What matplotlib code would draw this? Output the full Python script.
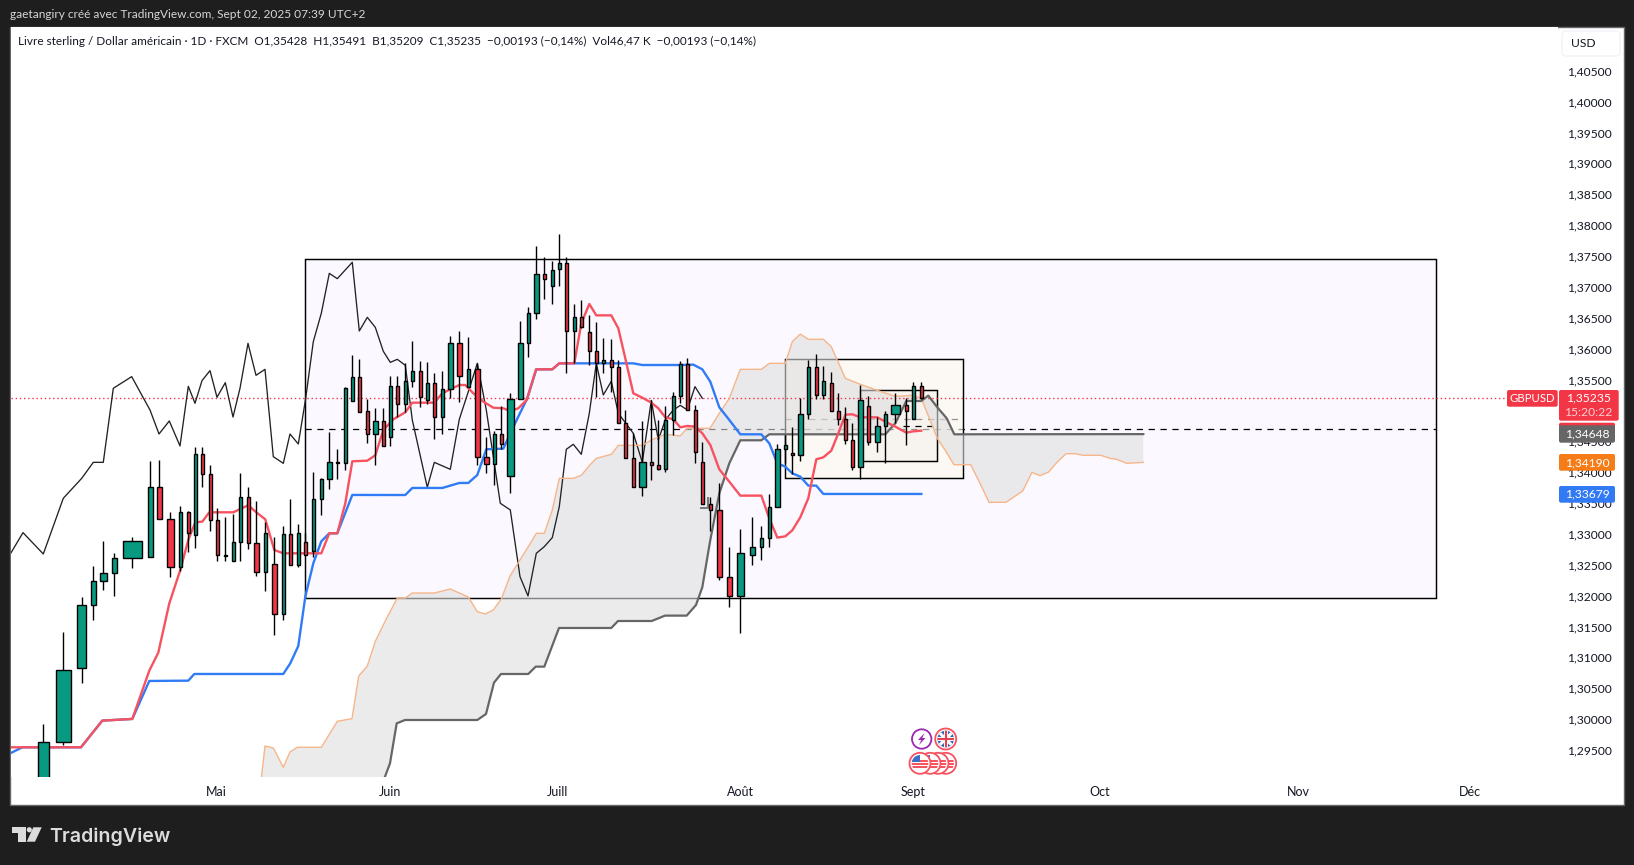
import numpy as np
import matplotlib
matplotlib.use('Agg')
import matplotlib.pyplot as plt
from matplotlib.patches import Rectangle, FancyBboxPatch, Circle, Polygon
from matplotlib.transforms import Affine2D, ScaledTranslation

# GBPUSD daily, volume candles: bar_x is the position on the time scale, bar_w the volume width
bar_x = [43.3,63.3,81.7,93.3,103.3,114.3,132.3,150.3,159.3,170.3,180.3,188.3,195.3,202.3,210.3,217.3,225.3,233.3,240.3,248.3,256.3,265.3,274.3,283.3,290.3,298.3,305.3,313.3,321.3,329.3,337.3,
         345.3,352.3,359.3,367.3,375.3,383.3,390.3,397.3,405.3,412.3,420.3,427.3,434.3,442.3,450.3,459.3,468.3,477.3,486.3,494.3,501.3,510.3,520.3,528.3,536.3,544.3,552.3,559.3,566.3,574.3,581.3,589.3,596.3,603.3,611.3,618.3,625.3,633.3,642.3,651.3,658.3,665.3,673.3,680.3,687.3,
         695.3,702.3,710.3,719.3,729.3,740.3,752.3,761.3,769.3,777.3,785.3,792.3,800.3,808.3,816.3,823.3,831.3,838.3,845.3,852.3,860.3,868.3,877.3,885.3,895.3,906.3,913.3,921.3]
bar_w = [12,16,10,6,8,6,20,6,6,8,4,4,4,4,4,4,4,4,4,4,6,4,6,4,4,4,4,4,4,6,4,
         4,4,4,4,6,4,4,4,4,4,4,4,4,4,6,6,4,6,6,4,4,8,6,4,6,4,4,4,4,4,4,4,4,4,4,4,4,4,8,4,4,4,4,4,4,
         4,4,4,6,6,8,6,4,4,6,4,4,6,4,4,4,4,4,4,4,6,4,6,4,10,4,4,4]
opens = [1.27645,1.29658,1.30856,1.31876,1.32265,1.32394,1.32637,1.32653,1.33787,1.33268,1.32491,1.33382,1.33009,1.34321,1.33997,1.33252,1.32680,1.32589,1.32896,1.33625,1.32880,1.32410,1.32540,1.31730,1.33026,1.32524,1.32896,1.32750,1.33592,1.33916,1.34186,
         1.34175,1.35179,1.35568,1.35017,1.34645,1.34855,1.34596,1.35422,1.35130,1.35503,1.35665,1.35195,1.35470,1.34920,1.35373,1.36118,1.35406,1.35697,1.34272,1.34159,1.34645,1.33965,1.35211,1.36118,1.36604,1.37235,1.37041,1.37316,1.37413,1.36312,1.36539,1.36296,1.35989,1.35794,1.35843,1.35730,1.34823,1.34256,1.33787,1.34191,1.34143,1.34078,1.34871,1.35260,1.35778,
         1.35033,1.34191,1.33511,1.33414,1.32329,1.32022,1.32686,1.32815,1.32961,1.33463,1.34402,1.34337,1.34305,1.34969,1.35730,1.35276,1.35470,1.35017,1.34888,1.34548,1.34110,1.35098,1.34515,1.34774,1.34969,1.35114,1.34888,1.35428]
highs = [1.29955,1.31439,1.32006,1.32508,1.32912,1.32718,1.32977,1.34207,1.34224,1.33382,1.33479,1.33398,1.34434,1.34434,1.34143,1.33447,1.33301,1.33349,1.34013,1.33787,1.33560,1.33220,1.32977,1.33155,1.33592,1.33187,1.33042,1.34029,1.33932,1.34677,1.34402,
         1.35416,1.35924,1.35859,1.35222,1.35066,1.35066,1.35584,1.35584,1.35794,1.36150,1.35827,1.35810,1.35632,1.35665,1.36231,1.36312,1.36215,1.35794,1.34596,1.34693,1.35098,1.35309,1.36474,1.36701,1.37689,1.37511,1.37446,1.37883,1.37511,1.36750,1.36814,1.36571,1.36458,1.36199,1.36183,1.35843,1.35033,1.34661,1.34855,1.35195,1.34871,1.35098,1.35325,1.35827,1.35875,
         1.35114,1.34515,1.33625,1.33851,1.32815,1.33107,1.33301,1.33155,1.33673,1.34483,1.34629,1.34758,1.35228,1.35843,1.35940,1.35746,1.35649,1.35309,1.35082,1.34823,1.35438,1.35260,1.34920,1.35017,1.35309,1.35228,1.35487,1.35491]
lows = [1.27537,1.29615,1.30624,1.31639,1.32124,1.32032,1.32486,1.32653,1.33268,1.32340,1.32437,1.32740,1.32804,1.33797,1.33085,1.32599,1.32599,1.32589,1.32599,1.32794,1.32357,1.32113,1.31401,1.31644,1.32524,1.32491,1.32686,1.32653,1.33344,1.33765,1.33916,
        1.34067,1.35179,1.35001,1.34499,1.34148,1.34450,1.34450,1.34920,1.35001,1.35406,1.35082,1.35130,1.34564,1.34645,1.35228,1.35163,1.35406,1.34148,1.34013,1.33824,1.34402,1.33700,1.35211,1.35902,1.36517,1.36831,1.36750,1.37041,1.35632,1.35794,1.36361,1.35762,1.35255,1.35632,1.35330,1.34823,1.34256,1.33787,1.33652,1.33900,1.34062,1.34029,1.34629,1.35147,1.35033,
        1.34175,1.33511,1.33085,1.32286,1.31854,1.31423,1.32535,1.32605,1.32826,1.33463,1.34175,1.33997,1.34208,1.34888,1.35211,1.35211,1.35017,1.34790,1.34483,1.34062,1.33916,1.34467,1.34353,1.34175,1.34823,1.34467,1.34888,1.35209]
closes = [1.29658,1.30824,1.31876,1.32265,1.32394,1.32637,1.32912,1.33787,1.33268,1.32491,1.33382,1.33042,1.34321,1.33997,1.33252,1.32686,1.32686,1.32896,1.33625,1.32880,1.32410,1.33042,1.31730,1.33026,1.32524,1.33042,1.32686,1.33592,1.33916,1.34191,1.34191,
          1.35390,1.35568,1.35001,1.34645,1.34855,1.34450,1.35422,1.35130,1.35503,1.35665,1.35244,1.35470,1.34920,1.35373,1.36118,1.35584,1.35697,1.34272,1.34159,1.34645,1.34483,1.35211,1.36118,1.36604,1.37235,1.37154,1.37300,1.37413,1.36312,1.36539,1.36377,1.35989,1.35794,1.35843,1.35730,1.34823,1.34256,1.33787,1.34191,1.34143,1.34078,1.34871,1.35260,1.35778,1.35033,
          1.34353,1.33511,1.33414,1.32329,1.32022,1.32718,1.32815,1.32961,1.33463,1.34402,1.34467,1.34305,1.34969,1.35730,1.35276,1.35503,1.35017,1.34888,1.34548,1.34110,1.35195,1.34515,1.34774,1.34969,1.35114,1.35017,1.35422,1.35235]

tenkan_x = [10.3,81.0,102.3,132.3,149.3,158.3,169.3,180.3,188.3,195.3,202.3,209.3,233.3,240.3,248.3,256.3,265.3,274.3,283.3,321.3,329.3,337.3,345.3,352.3,367.3,375.3,383.3,393.3,405.3,412.3,434.3,442.3,450.3,459.3,465.3,473.3,483.3,493.3,503.3,510.3,518.3,526.7,536.0,552.3,559.3,574.3,581.3,589.3,596.3,611.3,618.3,625.3,633.3,642.3,651.3,658.3,665.3,673.3,680.3,687.3,695.3,702.3,710.3,719.3,729.3,740.3,761.3,769.3,777.3,785.3,792.3,800.3,808.3,816.3,823.3,831.3,838.3,845.3,852.3,860.3,877.3,885.3,895.3,906.3,913.3,921.3]
tenkan = [1.29577,1.29577,1.30009,1.30036,1.30818,1.31110,1.31908,1.32448,1.32934,1.33220,1.33231,1.33382,1.33382,1.33436,1.33495,1.33382,1.33268,1.32772,1.32718,1.32718,1.33042,1.33042,1.33528,1.34208,1.34218,1.34305,1.34715,1.34888,1.35001,1.35157,1.35157,1.35309,1.35373,1.35443,1.35443,1.35309,1.35174,1.35076,1.35066,1.35022,1.35066,1.35201,1.35697,1.35697,1.35794,1.35794,1.36442,1.36755,1.36571,1.36571,1.36361,1.35875,1.35309,1.35238,1.35157,1.35066,1.34920,1.34888,1.34758,1.34780,1.34769,1.34661,1.34472,1.34078,1.33878,1.33652,1.33652,1.33285,1.32972,1.32993,1.33090,1.33301,1.33609,1.34240,1.34272,1.34380,1.34661,1.34963,1.34969,1.34920,1.34920,1.34850,1.34769,1.34672,1.34693,1.34704]
kijun_x = [10.3,22.3,81.0,102.3,132.3,149.3,188.3,194.3,283.3,290.3,298.3,305.3,313.3,321.3,329.3,337.3,352.3,405.3,412.3,442.3,459.3,468.3,477.3,486.3,503.3,510.3,518.3,527.3,536.3,552.3,559.3,633.3,642.3,680.3,693.3,702.3,710.3,719.3,729.3,740.3,761.3,769.3,777.3,785.3,792.3,800.3,808.3,816.3,823.3,921.3]
kijun = [1.29480,1.29577,1.29577,1.30009,1.30036,1.30651,1.30656,1.30764,1.30764,1.30937,1.31218,1.32016,1.32556,1.32912,1.33042,1.33042,1.33663,1.33662,1.33776,1.33776,1.33857,1.33857,1.33986,1.34402,1.34413,1.34661,1.34931,1.35228,1.35697,1.35697,1.35794,1.35794,1.35767,1.35767,1.35773,1.35697,1.35497,1.35082,1.34877,1.34645,1.34645,1.34499,1.34175,1.34121,1.34013,1.33959,1.33814,1.33814,1.33679,1.33679]
chikou_x = [10.3,23.0,43.3,63.3,81.7,93.3,103.3,113.3,131.7,141.7,150.0,159.0,169.3,180.0,188.3,195.0,202.0,210.0,217.0,225.3,233.0,240.0,248.0,256.0,265.0,273.3,283.3,290.0,298.3,305.7,313.3,321.3,329.3,337.3,352.3,359.3,367.3,375.3,383.3,390.3,397.3,405.3,412.3,427.3,434.3,450.3,459.3,468.3,477.3,486.3,500.3,510.3,520.0,528.0,536.3,544.3,552.3,559.3,566.3,573.3,581.3,589.3,596.3,603.3,611.3,618.3,633.3,642.3,651.3,658.3,665.3,673.3,680.3,687.3,695.0,702.3]
chikou = [1.32707,1.33053,1.32707,1.33609,1.33932,1.34191,1.34191,1.35390,1.35579,1.35282,1.35039,1.34650,1.34861,1.34456,1.35422,1.35147,1.35514,1.35676,1.35244,1.35481,1.34925,1.35390,1.36118,1.35600,1.35697,1.34283,1.34175,1.34650,1.34488,1.35228,1.36145,1.36604,1.37251,1.37165,1.37430,1.36318,1.36539,1.36377,1.35989,1.35810,1.35859,1.35762,1.34877,1.33787,1.34191,1.34078,1.34888,1.35335,1.35794,1.35039,1.33528,1.33420,1.32340,1.32027,1.32718,1.32826,1.32972,1.33474,1.34402,1.34483,1.34321,1.34985,1.35794,1.35282,1.35503,1.34985,1.34661,1.34191,1.35195,1.34553,1.34877,1.35039,1.35114,1.35039,1.35417,1.35228]
span_a_x = [255.0,380.0,385.0,390.0,396.7,405.0,477.3,486.0,494.0,501.0,528.3,535.7,544.3,559.0,611.3,618.0,651.7,665.0,686.7,696.0,702.3,710.3,719.3,729.3,740.3,761.3,769.3,885.3,895.3,906.3,921.3,928.3,937.3,946.7,954.3,1143.3]
span_a = [1.28184,1.28832,1.29102,1.29318,1.29965,1.30019,1.30019,1.30116,1.30624,1.30764,1.30764,1.30883,1.30883,1.31509,1.31509,1.31622,1.31622,1.31709,1.31709,1.31881,1.32168,1.32934,1.33689,1.34175,1.34548,1.34548,1.34645,1.34645,1.34823,1.35184,1.35184,1.35271,1.35082,1.34904,1.34645,1.34648]
span_b_x = [255.0,265.0,273.3,283.3,290.0,297.3,321.3,337.3,352.0,358.7,367.3,375.3,385.7,397.3,405.3,412.3,434.3,450.3,468.3,477.3,485.3,493.3,501.3,510.0,528.3,536.3,544.3,552.3,559.3,573.3,581.3,589.3,596.3,611.3,618.3,642.3,651.3,665.3,680.0,687.3,710.0,719.3,729.3,740.3,761.3,769.3,785.3,792.3,800.3,808.3,823.3,831.3,845.3,860.3,877.3,895.3,913.3,921.3,929.3,937.3,945.0,954.0,970.7,980.0,989.0,1006.0,1022.7,1032.0,1040.0,1048.7,1056.7,1066.0,1075.0,1083.3,1100.7,1110.0,1116.7,1126.7,1143.3]
span_b = [1.28184,1.29598,1.29566,1.29253,1.29501,1.29577,1.29577,1.29998,1.30041,1.30732,1.30893,1.31293,1.31638,1.31994,1.31994,1.32075,1.32075,1.32140,1.32011,1.31773,1.31735,1.31800,1.31978,1.32351,1.32826,1.33042,1.33042,1.33419,1.33932,1.33932,1.33981,1.34137,1.34256,1.34321,1.34466,1.34466,1.34553,1.34645,1.34618,1.34742,1.34742,1.34985,1.35227,1.35697,1.35697,1.35794,1.35794,1.36145,1.36269,1.36183,1.36183,1.36064,1.35551,1.35454,1.35357,1.35260,1.35276,1.35227,1.34904,1.34580,1.34391,1.34153,1.34153,1.33851,1.33544,1.33544,1.33727,1.34029,1.33975,1.34035,1.34186,1.34331,1.34331,1.34305,1.34305,1.34256,1.34240,1.34175,1.34191]
step_x = [701.3,708.3,708.3]
step = [1.33447,1.33447,1.33609]

price_ticks = [1.295 + 0.005 * i for i in range(23)]
month_pos = [216.7, 390, 557.5, 740, 913, 1100, 1298, 1470]
month_labels = ['Mai', 'Juin', 'Juill', 'Août', 'Sept', 'Oct', 'Nov', 'Déc']
last_price = 1.35235

# boxes drawn on the chart: left, right, top price, bottom price
big_box = (305.3, 1436, 1.37479, 1.31990)
mid_box = (785.3, 963.3, 1.35859, 1.33933)
small_box = (860.3, 937.3, 1.35358, 1.34208)

W, H = 1634, 865
GREEN, RED = '#089981', '#f23645'
FONT = 'Lato'

fig = plt.figure(figsize=(W / 100, H / 100), dpi=100, facecolor='#1e1e1e')
px = Affine2D().scale(1, -1).translate(0, H)  # figure pixels, y going down

fig.add_artist(Rectangle((10, 27), 1613.5, 777.5, fc='white', ec='#666666', lw=1, transform=px, zorder=-1))

ax = fig.add_axes([11 / W, (H - 777) / H, 1547 / W, 750 / H])
ax.set_facecolor('white')
for s in ax.spines.values():
    s.set_visible(False)
ax.set_xlim(11, 1558)
ax.set_ylim(1.29096, 1.41240)

ax.yaxis.tick_right()
ax.set_yticks(price_ticks)
ax.set_yticklabels([('%.5f' % p).replace('.', ',') for p in price_ticks], fontsize=8.7, family=FONT, color='#131722')
ax.set_xticks(month_pos)
ax.set_xticklabels(month_labels, fontsize=9, family=FONT, color='#131722')
ax.tick_params(axis='y', length=0, pad=6.5)
ax.tick_params(axis='x', length=0, pad=6.5)
up = ScaledTranslation(0, 2 / 100, fig.dpi_scale_trans)
for lab in ax.get_yticklabels():
    lab.set_transform(lab.get_transform() + up)

def draw_box(box, face, alpha, z):
    left, right, top, bottom = box
    ax.add_patch(Rectangle((left, bottom), right - left, top - bottom, fc=face, alpha=alpha, ec='none', zorder=z))
    ax.add_patch(Rectangle((left, bottom), right - left, top - bottom, fc='none', ec='black', lw=1.05, zorder=z))

draw_box(big_box, '#fbf9ff', 1, 1)
ax.hlines((big_box[2] + big_box[3]) / 2, big_box[0], big_box[1], colors='black', lw=0.9, linestyles=(0, (5, 4.5)), zorder=1.2)
ax.hlines((mid_box[2] + mid_box[3]) / 2, mid_box[0], mid_box[1], colors='black', lw=0.9, linestyles=(0, (5, 4.5)), zorder=1.2)
draw_box(mid_box, '#fdf8eb', 0.6, 1.5)
ax.hlines((small_box[2] + small_box[3]) / 2, 903, small_box[1], colors='black', lw=0.9, linestyles=(0, (5, 4.5)), zorder=2.2)
draw_box(small_box, '#808080', 0.04, 2)

# cloud, see-through enough to leave the box borders grey
ax.fill(span_a_x + span_b_x[::-1], span_a + span_b[::-1], fc='#dedede', alpha=0.6, ec='none', zorder=3)

ax.axhline(last_price, color=RED, lw=1, ls=(0, (1, 2)), zorder=3.5)
ax.plot(chikou_x, chikou, color='#222222', lw=0.95, zorder=4)
ax.plot(span_b_x, span_b, color='#f7b68a', lw=1, zorder=4)
ax.plot(span_a_x, span_a, color='#666666', lw=1.6, zorder=4)
ax.plot(step_x, step, color='#777777', lw=1.4, zorder=4)
ax.plot(kijun_x, kijun, color='#2f7cf6', lw=1.7, zorder=4)
ax.plot(tenkan_x, tenkan, color='#f7525f', lw=1.7, zorder=4)

body_low = [min(a, b) for a, b in zip(opens, closes)]
body_h = [abs(a - b) for a, b in zip(opens, closes)]
colors = [GREEN if b >= a else RED for a, b in zip(opens, closes)]
ax.vlines(bar_x, lows, highs, colors='black', lw=1, zorder=5)
ax.bar(bar_x, body_h, width=[w - 1.3 for w in bar_w], bottom=body_low, color=colors, edgecolor='black', lw=1, zorder=6)

# header and footer
fig.text(10, 15, 'gaetangiry créé avec TradingView.com, Sept 02, 2025 07:39 UTC+2', transform=px, color='#d6d6d6',
         fontsize=8.6, family=FONT, va='center')
fig.text(17.5, 41.5, 'Livre sterling / Dollar américain · 1D · FXCM  O1,35428  H1,35491  B1,35209  C1,35235  −0,00193 (−0,14%)  Vol46,47 K  −0,00193 (−0,14%)',
         transform=px, color='#131722', fontsize=8.45, family=FONT, va='center')
fig.text(49, 836.5, 'TradingView', transform=px, color='#dcdcdc', fontsize=14.1, family='Inter', weight='semibold', va='center')
fig.add_artist(Polygon([(12, 827.3), (25.7, 827.3), (25.7, 841.7), (18.3, 841.7), (18.3, 833.3), (12, 833.3)], fc='#dcdcdc', ec='none', transform=px))
fig.add_artist(Circle((29.3, 829.8), 2.6, fc='#dcdcdc', ec='none', transform=px))
fig.add_artist(Polygon([(33.3, 827.3), (41.7, 827.3), (35, 841.7), (26.7, 841.7)], fc='#dcdcdc', ec='none', transform=px))

# price scale labels
fig.add_artist(FancyBboxPatch((1562, 31), 58, 25, boxstyle='round,pad=0,rounding_size=4', fc='white', ec='#f0f3fa', lw=1, transform=px, zorder=5))
fig.text(1571, 43.5, 'USD', transform=px, color='#131722', fontsize=8.7, family=FONT, va='center', zorder=6)

def price_label(x0, x1, y0, y1, face, z=5):
    fig.add_artist(FancyBboxPatch((x0, y0), x1 - x0, y1 - y0, boxstyle='round,pad=0,rounding_size=2', fc=face, ec='none', transform=px, zorder=z))

price_label(1507, 1557.7, 390, 406.7, RED)
price_label(1559, 1618.7, 390, 420.7, RED)
price_label(1559, 1615, 422.7, 440, RED)
price_label(1559, 1615, 425.3, 442.7, '#666666', 5.5)
price_label(1559, 1615, 454, 470.7, '#f57c17')
price_label(1559, 1615, 486, 502.7, '#3179f5')
for x, y, s, col in [(1532.3, 398, 'GBPUSD', 'white'), (1588, 398, '1,35235', 'white'), (1588, 412.5, '15:20:22', '#fbd0d4'),
                     (1587, 434, '1,34648', 'white'), (1587, 462.5, '1,34190', 'white'), (1587, 494, '1,33679', 'white')]:
    fig.text(x, y, s, transform=px, color=col, fontsize=8.2 if s == 'GBPUSD' else 8.7, family=FONT, ha='center', va='center', zorder=7)

# event icons under the candles, z keeps each flag whole above the one before
def round_icon(x, y, ring, z, r=10.5):
    fig.add_artist(Circle((x, y), r, fc='white', ec=ring, lw=1.3, transform=px, zorder=z))
    return Circle((x, y), r - 2.2, fc='none', ec='none', transform=px)

def clipped(art, clip):
    fig.add_artist(art)
    art.set_clip_path(clip)

def us_flag(x, y, z):
    clip = round_icon(x, y, '#f7525f', z)
    for i in range(3):
        clipped(Rectangle((x - 9, y - 0.5 + i * 3.2 - 3), 18, 1.7, fc='#f7525f', ec='none', transform=px, zorder=z + 0.1), clip)
    clipped(Rectangle((x - 9, y - 9), 9, 8, fc='#3d6fc9', ec='none', transform=px, zorder=z + 0.2), clip)

def uk_flag(x, y, z):
    clip = round_icon(x, y, '#f7525f', z)
    clipped(Rectangle((x - 9, y - 9), 18, 18, fc='#2a5caa', ec='none', transform=px, zorder=z + 0.1), clip)
    for (a, b, c, d), lw, col in [((-9, -9, 9, 9), 2.2, 'white'), ((-9, 9, 9, -9), 2.2, 'white'), ((-9, 0, 9, 0), 3, 'white'), ((0, -9, 0, 9), 3, 'white'), ((-9, 0, 9, 0), 1.5, '#e0414e'), ((0, -9, 0, 9), 1.5, '#e0414e')]:
        ln = plt.Line2D([x + a, x + c], [y + b, y + d], color=col, lw=lw, transform=px, zorder=z + 0.2)
        clipped(ln, clip)

fig.add_artist(Circle((921.7, 739), 9.7, fc='white', ec='#9c27b0', lw=1.3, transform=px, zorder=5))
fig.add_artist(Polygon([(924.5, 733), (918, 740), (921.3, 740), (919, 745), (925.5, 738), (922.3, 738)], fc='#9c27b0', ec='none', transform=px, zorder=5.1))
uk_flag(945.7, 739, 5)
for k, cx in enumerate([945.7, 938, 930, 920]):
    us_flag(cx, 763.3, 6 + k)

fig.savefig('out.png', dpi=100, facecolor=fig.get_facecolor())
